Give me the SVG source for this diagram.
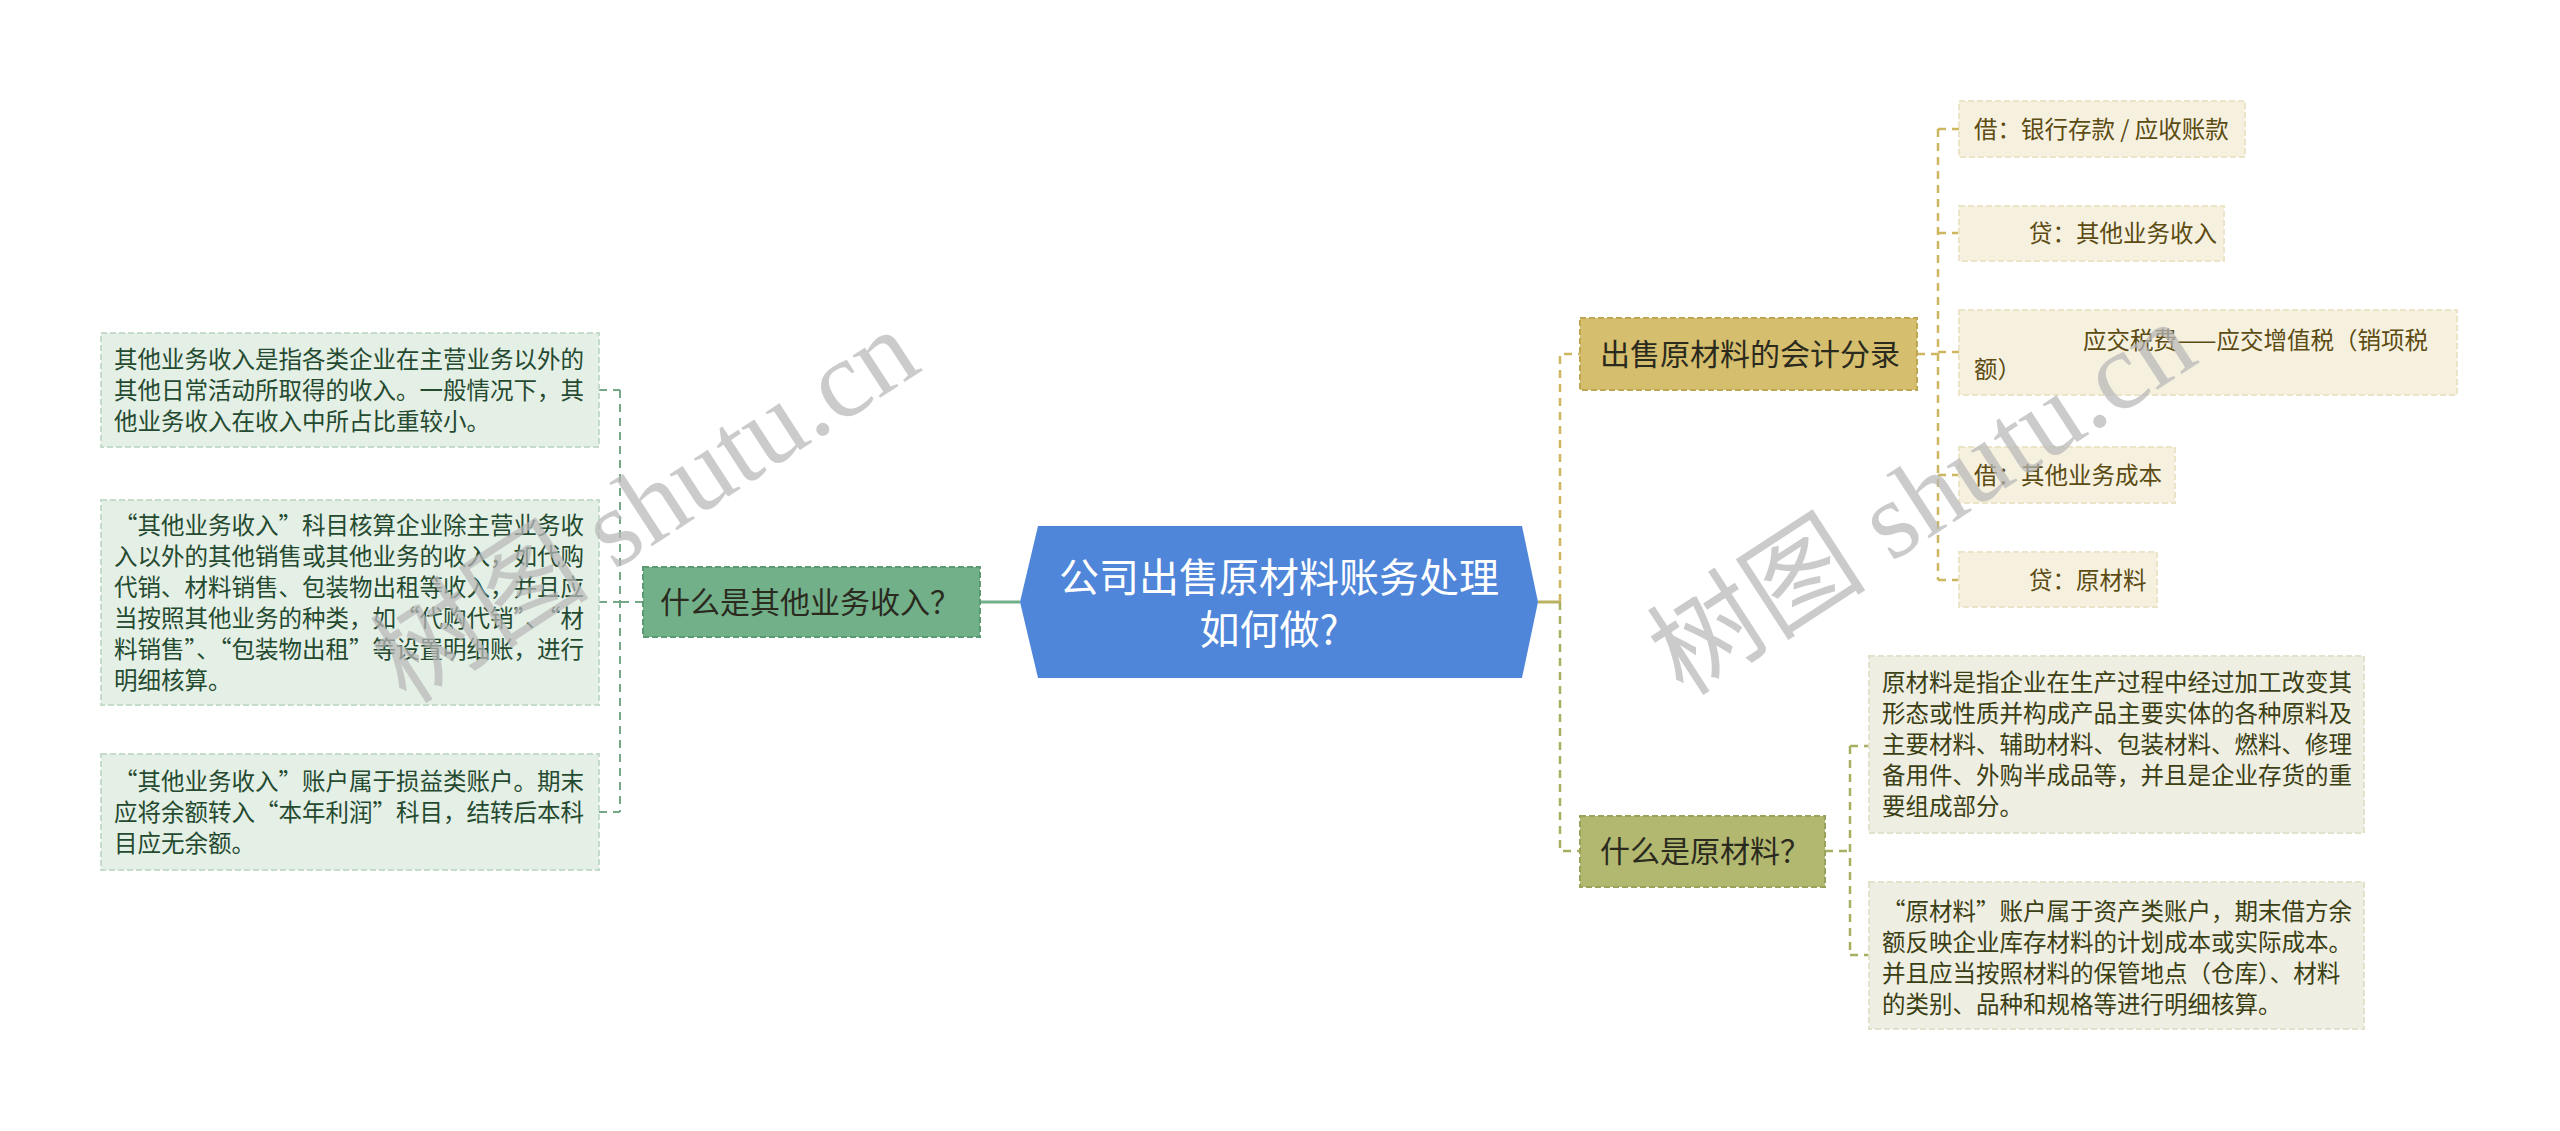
<svg xmlns="http://www.w3.org/2000/svg" width="2560" height="1131" viewBox="0 0 2560 1131">
<style>
text{font-family:"Noto Sans CJK SC","Liberation Sans",sans-serif;}
.leaf{font-size:23.5px;}
.br{font-size:30px;}
.lg{fill:#e4efe6;stroke:#c5dccb;stroke-width:2;stroke-dasharray:6 3;}
.lgt{fill:#244a30;}
.gb{fill:#72b08a;stroke:#5b9a72;stroke-width:2;stroke-dasharray:6 3;}
.yb{fill:#d5be6d;stroke:#bfa653;stroke-width:2;stroke-dasharray:6 3;}
.ob{fill:#b2b870;stroke:#9ba25a;stroke-width:2;stroke-dasharray:6 3;}
.yl{fill:#f6f1df;stroke:#ece4c8;stroke-width:2;stroke-dasharray:6 3;}
.ylt{fill:#5c4b12;}
.ol{fill:#efeee2;stroke:#e2e1cc;stroke-width:2;stroke-dasharray:6 3;}
.olt{fill:#3b4014;}
.dk{fill:#2a2a1e;}
.cg{fill:none;stroke:#75a886;stroke-width:2;stroke-dasharray:8 6;}
.cy{fill:none;stroke:#cdb660;stroke-width:2.5;stroke-dasharray:8 6;}
.co{fill:none;stroke:#a9af62;stroke-width:2.5;stroke-dasharray:8 6;}
.wm{font-family:"Liberation Serif","Noto Sans CJK SC",serif;font-size:110px;fill:#b8b8b8;opacity:0.72;}
</style>
<rect width="2560" height="1131" fill="#ffffff"/>
<g id="connectors">
<line x1="1020" y1="602" x2="980" y2="602" stroke="#72b08a" stroke-width="3"/>
<path class="cg" d="M643,602 H620 M620,390 V812 M599,390 H620 M599,602 H620 M599,812 H620"/>
<line x1="1538" y1="602" x2="1560" y2="602" stroke="#b9b262" stroke-width="3"/>
<path class="cy" d="M1560,602 V354 H1580"/>
<path class="co" d="M1560,602 V851 H1580"/>
<path class="cy" d="M1917,354 H1938 M1938,129 V580 M1938,129 H1959 M1938,233 H1959 M1938,352 H1959 M1938,475 H1959 M1938,580 H1959"/>
<path class="co" d="M1825,851 H1850 M1850,746 V955 M1850,746 H1869 M1850,955 H1869"/>
</g>
<g id="center">
<polygon points="1020,602 1038,526 1522,526 1538,602 1522,678 1038,678" fill="#4f86d9"/>
<text x="1279" y="592" font-size="40" fill="#ffffff" text-anchor="middle">公司出售原材料账务处理</text>
<text x="1269" y="644" font-size="40" fill="#ffffff" text-anchor="middle">如何做?</text>
</g>
<g id="branch-left">
<rect class="gb" x="643" y="567" width="337" height="70"/>
<text class="br dk" x="660" y="613">什么是其他业务收入？</text>
</g>
<g id="leaf-l1">
<rect class="lg" x="101" y="333" width="498" height="114"/>
<text class="leaf lgt"><tspan x="114" y="368">其他业务收入是指各类企业在主营业务以外的</tspan><tspan x="114" y="399">其他日常活动所取得的收入。一般情况下，其</tspan><tspan x="114" y="430">他业务收入在收入中所占比重较小。</tspan></text>
</g>
<g id="leaf-l2">
<rect class="lg" x="101" y="500" width="498" height="205"/>
<text class="leaf lgt"><tspan x="114" y="534">“其他业务收入”科目核算企业除主营业务收</tspan><tspan x="114" y="565">入以外的其他销售或其他业务的收入，如代购</tspan><tspan x="114" y="596">代销、材料销售、包装物出租等收入，并且应</tspan><tspan x="114" y="627">当按照其他业务的种类，如“代购代销”、“材</tspan><tspan x="114" y="658">料销售”、“包装物出租”等设置明细账，进行</tspan><tspan x="114" y="689">明细核算。</tspan></text>
</g>
<g id="leaf-l3">
<rect class="lg" x="101" y="754" width="498" height="116"/>
<text class="leaf lgt"><tspan x="114" y="790">“其他业务收入”账户属于损益类账户。期末</tspan><tspan x="114" y="821">应将余额转入“本年利润”科目，结转后本科</tspan><tspan x="114" y="852">目应无余额。</tspan></text>
</g>
<g id="branch-r1">
<rect class="yb" x="1580" y="318" width="337" height="72"/>
<text class="br dk" x="1600" y="365">出售原材料的会计分录</text>
</g>
<g id="leaf-r1a">
<rect class="yl" x="1959" y="101" width="286" height="56"/>
<text class="leaf ylt" x="1974" y="138">借：银行存款 / 应收账款</text>
</g>
<g id="leaf-r1b">
<rect class="yl" x="1959" y="206" width="265" height="55"/>
<text class="leaf ylt" x="2029" y="242">贷：其他业务收入</text>
</g>
<g id="leaf-r1c">
<rect class="yl" x="1959" y="310" width="498" height="85"/>
<text class="leaf ylt"><tspan x="2083" y="349">应交税费——应交增值税（销项税</tspan><tspan x="1974" y="378">额）</tspan></text>
</g>
<g id="leaf-r1d">
<rect class="yl" x="1959" y="447" width="216" height="56"/>
<text class="leaf ylt" x="1974" y="484">借：其他业务成本</text>
</g>
<g id="leaf-r1e">
<rect class="yl" x="1959" y="552" width="198" height="55"/>
<text class="leaf ylt" x="2029" y="589">贷：原材料</text>
</g>
<g id="branch-r2">
<rect class="ob" x="1580" y="816" width="245" height="71"/>
<text class="br dk" x="1600" y="862">什么是原材料？</text>
</g>
<g id="leaf-r2a">
<rect class="ol" x="1869" y="656" width="495" height="177"/>
<text class="leaf olt"><tspan x="1882" y="691">原材料是指企业在生产过程中经过加工改变其</tspan><tspan x="1882" y="722">形态或性质并构成产品主要实体的各种原料及</tspan><tspan x="1882" y="753">主要材料、辅助材料、包装材料、燃料、修理</tspan><tspan x="1882" y="784">备用件、外购半成品等，并且是企业存货的重</tspan><tspan x="1882" y="815">要组成部分。</tspan></text>
</g>
<g id="leaf-r2b">
<rect class="ol" x="1869" y="882" width="495" height="147"/>
<text class="leaf olt"><tspan x="1882" y="920">“原材料”账户属于资产类账户，期末借方余</tspan><tspan x="1882" y="951">额反映企业库存材料的计划成本或实际成本。</tspan><tspan x="1882" y="982">并且应当按照材料的保管地点（仓库）、材料</tspan><tspan x="1882" y="1013">的类别、品种和规格等进行明细核算。</tspan></text>
</g>
<g id="watermark">
<text class="wm" x="650" y="542" text-anchor="middle" transform="rotate(-33 650 514)">树图 shutu.cn</text>
<text class="wm" x="1927" y="534" text-anchor="middle" transform="rotate(-33 1927 506)">树图 shutu.cn</text>
</g>
</svg>
